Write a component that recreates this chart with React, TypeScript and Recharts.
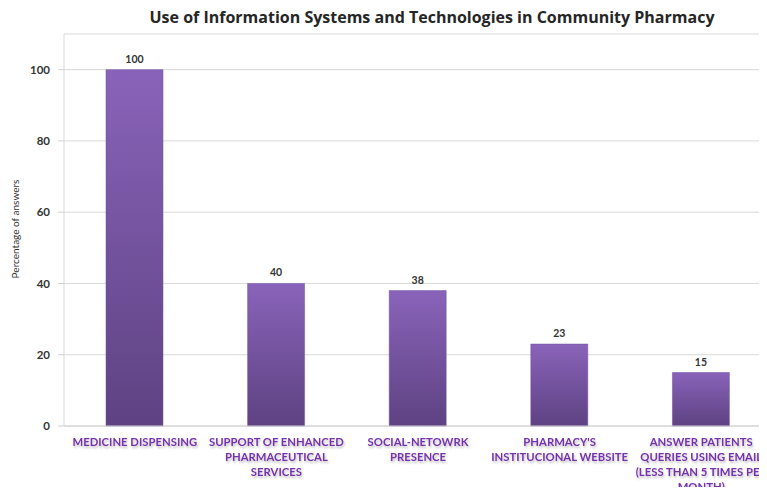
import React from "react";
import {
  BarChart,
  Bar,
  XAxis,
  YAxis,
  CartesianGrid,
  LabelList,
} from "recharts";

const categories = [
  "MEDICINE DISPENSING",
  "SUPPORT OF ENHANCED PHARMACEUTICAL SERVICES",
  "SOCIAL-NETOWRK PRESENCE",
  "PHARMACY'S INSTITUCIONAL WEBSITE",
  "ANSWER PATIENTS QUERIES USING EMAIL (LESS THAN 5 TIMES PER MONTH)",
];

// how each category label wraps in the original
const categoryLines = [
  ["MEDICINE DISPENSING"],
  ["SUPPORT OF ENHANCED", "PHARMACEUTICAL", "SERVICES"],
  ["SOCIAL-NETOWRK", "PRESENCE"],
  ["PHARMACY'S", "INSTITUCIONAL WEBSITE"],
  ["ANSWER PATIENTS", "QUERIES USING EMAIL", "(LESS THAN 5 TIMES PER", "MONTH)"],
];

const percentages = [100, 40, 38, 23, 15];

const yTicks = [0, 20, 40, 60, 80, 100];

// tick marks sit between categories
const boundaryTicks = [1, 2, 3, 4];

const data = categories.map((name, i) => ({ name, value: percentages[i] }));

const FONT = "Lato, 'Open Sans', sans-serif";

function CategoryTick({ x, y, payload }: any) {
  const idx = categories.indexOf(payload.value);
  const lines = categoryLines[idx] || [payload.value];
  return (
    <g transform={`translate(${x},${y})`}>
      {lines.map((line, i) => (
        <text
          key={i}
          x={0}
          y={12 + i * 15}
          textAnchor="middle"
          fontFamily={FONT}
          fontSize={11.3}
          fontWeight={700}
          fill="#7433ad"
          filter="url(#labelShadow)"
        >
          {line}
        </text>
      ))}
    </g>
  );
}

function BoundaryTick({ x, y }: any) {
  return <line x1={x} x2={x} y1={y} y2={y + 5} stroke="#c8c8c8" />;
}

export default function App() {
  return (
    <div
      style={{
        position: "relative",
        margin: -8,
        width: 767,
        height: 495,
        overflow: "hidden",
        background: "#fff",
      }}
    >
      <div
        style={{
          position: "absolute",
          top: 6,
          left: 132,
          width: 600,
          textAlign: "center",
          fontFamily: "'Open Sans', sans-serif",
          fontWeight: 700,
          fontSize: 16,
          color: "#262626",
          whiteSpace: "nowrap",
        }}
      >
        Use of Information Systems and Technologies in Community Pharmacy
      </div>
      <div
        style={{
          position: "absolute",
          left: 15,
          top: 229,
          transform: "translate(-50%, -50%) rotate(-90deg)",
          fontFamily: FONT,
          fontSize: 10,
          color: "#333",
          whiteSpace: "nowrap",
        }}
      >
        Percentage of answers
      </div>
      <BarChart
        width={776}
        height={495}
        data={data}
        margin={{ top: 34, right: 4, left: 0, bottom: 0 }}
        barCategoryGap={0}
      >
        <defs>
          <linearGradient id="barFill" x1="0" y1="0" x2="0" y2="1">
            <stop offset="0%" stopColor="#8963b9" />
            <stop offset="100%" stopColor="#5e4282" />
          </linearGradient>
          <filter id="labelShadow" x="-10%" y="-30%" width="120%" height="180%">
            <feDropShadow dx="1" dy="2" stdDeviation="1" floodColor="#000" floodOpacity={0.25} />
          </filter>
        </defs>
        <CartesianGrid vertical={false} stroke="#d9d9d9" />
        <XAxis
          xAxisId="bounds"
          type="number"
          domain={[0, 5]}
          ticks={boundaryTicks}
          interval={0}
          allowDataOverflow
          height={1}
          tick={<BoundaryTick />}
          tickSize={0}
          tickMargin={0}
          tickLine={false}
          axisLine={false}
        />
        <XAxis
          dataKey="name"
          height={68}
          interval={0}
          tick={<CategoryTick />}
          tickLine={false}
          axisLine={{ stroke: "#d0d0d0" }}
        />
        <YAxis
          width={64}
          domain={[0, 110]}
          ticks={yTicks}
          interval={0}
          tick={{ fontFamily: FONT, fontSize: 11.5, fontWeight: 700, fill: "#333" }}
          tickSize={6}
          tickMargin={8}
          tickLine={{ stroke: "#d0d0d0" }}
          axisLine={{ stroke: "#d9d9d9" }}
        />
        <Bar
          dataKey="value"
          barSize={57}
          fill="url(#barFill)"
          stroke="#6f52a0"
          strokeWidth={0.5}
          isAnimationActive={false}
        >
          <LabelList
            dataKey="value"
            position="top"
            offset={7}
            style={{ fontFamily: FONT, fontSize: 10.5, fontWeight: 700, fill: "#333" }}
          />
        </Bar>
      </BarChart>
    </div>
  );
}
